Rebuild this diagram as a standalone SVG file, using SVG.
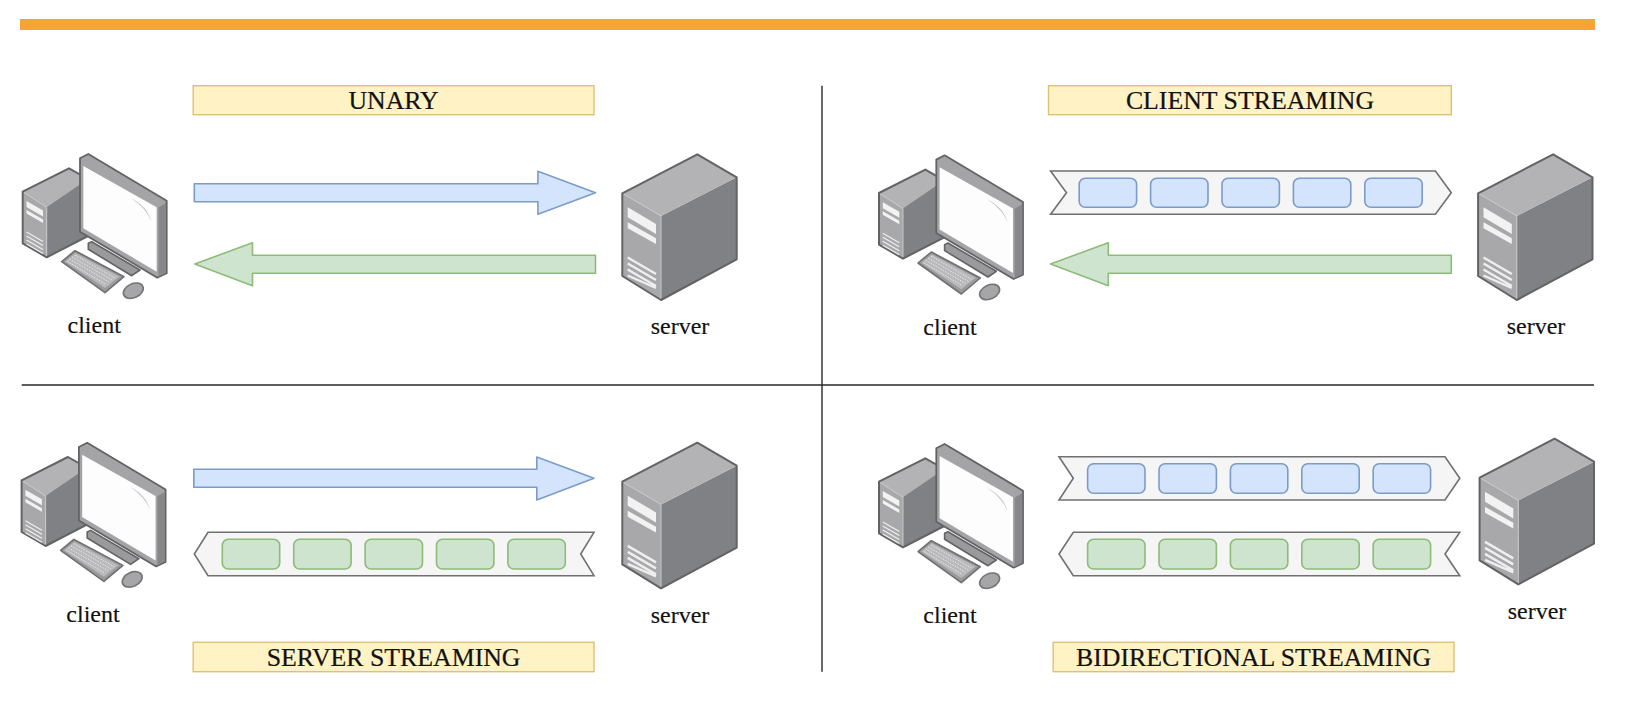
<svg xmlns="http://www.w3.org/2000/svg" width="1645" height="709" viewBox="0 0 1645 709">
<style>
.banner{fill:#fff2c4;stroke:#dcc272;stroke-width:1.4}
.ttl{font-family:"Liberation Serif","Times New Roman",serif;font-size:25.800px;fill:#111;text-anchor:middle;stroke:#111;stroke-width:.2}
.lbl{font-family:"Liberation Serif","Times New Roman",serif;font-size:24px;fill:#111;text-anchor:middle;stroke:#111;stroke-width:.15}
.bl{fill:#d4e4fc;stroke:#7b9cc9;stroke-width:1.6;stroke-linejoin:round}
.gr{fill:#cfe4cf;stroke:#8dbb78;stroke-width:1.6;stroke-linejoin:round}
.rib{fill:#f5f5f5;stroke:#707070;stroke-width:1.6}
.div{stroke:#2a2a2a;stroke-width:1.4;fill:none}
.o{stroke:#626365;stroke-width:2;stroke-linejoin:round;fill:none}
.w{fill:#f2f2f3}
.v{stroke:#eeeeef;stroke-width:2.400;fill:none}
.hl{stroke:#c8c8ca;stroke-width:1;fill:none}
</style>
<defs>
<filter id="soft" x="-5%" y="-5%" width="110%" height="110%"><feGaussianBlur stdDeviation="0.35"/></filter>
<g id="pc" filter="url(#soft)">
<path fill="#808184" d="M46.700 207.300L69 168.300L88 179V236L46.700 257.300Z"/>
<path fill="#b3b3b5" d="M22.700 191.700L69 168.300L88 179L46.700 207.300Z"/>
<path fill="#a8a8aa" d="M22.700 191.700L46.700 207.300V257.300L22.700 243.300Z"/>
<path class="hl" d="M22.700 191.700L46.700 207.300V257.300"/>
<path class="o" d="M88 179L69 168.300L22.700 191.700V243.300L46.700 257.300L88 236"/>
<path class="w" d="M26.500 201L43 210.500V216.500L26.500 207ZM26.500 210L43 219.500V223L26.500 213.500Z"/>
<path class="v" style="stroke-width:1.300" d="M26.500 232L43 241.500M26.500 236L43 245.500M26.500 240L43 249.500M26.500 244L43 253.500"/>
<path fill="#9a9a9c" stroke="#626365" stroke-width="1.600" stroke-linejoin="round" d="M88.300 243.300L91.700 241.700L140 270L131.700 275.700L88.300 249.300Z"/>
<path fill="#a4a4a6" stroke="#626365" stroke-width="1.800" stroke-linejoin="round" d="M80 158.300L88.300 154L166.700 200.700V273.300L157.300 277.700L80 231.700Z"/>
<path fill="#87878a" d="M158.500 207.500L166 203V272.500L158.500 277Z"/>
<path fill="#fdfdfe" d="M83.300 166L156.700 207.300V271.700L83.300 228.300Z"/>
<path fill="#c4c4c6" d="M131 198Q148 207 151 221Q147 209 131 198Z"/>
<path fill="#9a9a9c" stroke="#707072" stroke-width="1.600" stroke-linejoin="round" d="M61.700 261.700L75 250.700L124 276.700L105 292.700Z"/>
<path fill="#b9b9bb" d="M65 261.500L75.500 253L119.500 276.500L105 288Z"/>
<path stroke="#e6e6e7" stroke-width="1" stroke-dasharray="1.600 1.200" fill="none" d="M72 257L112 280M69.500 259L109 282M67.500 261.500L106 284.500M75 255L115 278"/>
<ellipse cx="133.300" cy="290.700" rx="10.500" ry="7" fill="#a6a6a8" stroke="#747476" stroke-width="1.600" transform="rotate(-25 133.300 290.700)"/>
</g>
<g id="srv" filter="url(#soft)">
<path fill="#808184" d="M661 216L736.700 177.300V259.300L661 300Z"/>
<path fill="#b3b3b5" d="M622.300 193.300L697.300 154.300L736.700 177.300L661 216Z"/>
<path fill="#a8a8aa" d="M622.300 193.300L661 216V300L622.300 276Z"/>
<path class="hl" d="M622.300 193.300L661 216V300"/>
<path class="o" d="M622.300 193.300L697.300 154.300L736.700 177.300V259.300L661 300L622.300 276Z"/>
<path class="w" d="M627.700 207.300L656 224V234L627.700 217.300ZM627.700 222.300L656 238.300V244L627.700 228.300Z"/>
<path class="v" d="M627.700 257.500L656 274M627.700 263.500L656 280M627.700 269.500L656 286M627.700 275.500L656 288"/>
</g>
</defs>
<rect width="1645" height="709" fill="#fff"/>
<rect id="top-bar" x="20" y="19" width="1575" height="11" fill="#f8a433"/>
<g id="connectors">
<path class="div" d="M822 85.700V671.700M21.700 385H1594"/>
<path id="q1-req" class="bl" d="M194.300 183.700H537.900V171.300L595.500 192.700L537.900 214.300V201.700H194.300Z"/>
<path id="q1-res" class="gr" d="M595.500 255.300H252.500V242.700L194.800 264L252.500 285.700V273.300H595.500Z"/>
<path id="q2-res" class="gr" d="M1451.300 255.300H1108.300V242.700L1050.600 264L1108.300 285.700V273.300H1451.300Z"/>
<path id="q3-req" class="bl" d="M193.800 469.300H536.800V457L594 478.300L536.800 500V487.300H193.800Z"/>
</g>
<g id="q2-stream">
<path class="rib" d="M1050.600 171H1435.400L1451.300 192.700L1435.400 214.300H1050.600L1066.500 192.700Z"/>
<rect class="bl" x="1079.200" y="178.300" width="57.400" height="29" rx="6"/><rect class="bl" x="1150.600" y="178.300" width="57.400" height="29" rx="6"/><rect class="bl" x="1222" y="178.300" width="57.400" height="29" rx="6"/><rect class="bl" x="1293.400" y="178.300" width="57.400" height="29" rx="6"/><rect class="bl" x="1364.800" y="178.300" width="57.400" height="29" rx="6"/>
</g>
<g id="q3-stream">
<path class="rib" d="M594 532.300H208L194.300 554L208 575.700H594L580.700 554Z"/>
<rect class="gr" x="222.300" y="539.300" width="57.400" height="29.700" rx="6"/><rect class="gr" x="293.700" y="539.300" width="57.400" height="29.700" rx="6"/><rect class="gr" x="365.100" y="539.300" width="57.400" height="29.700" rx="6"/><rect class="gr" x="436.500" y="539.300" width="57.400" height="29.700" rx="6"/><rect class="gr" x="507.900" y="539.300" width="57.400" height="29.700" rx="6"/>
</g>
<g id="q4-stream-up">
<path class="rib" d="M1059 456.700H1445L1459.800 478.300L1445 500H1059L1073.300 478.300Z"/>
<rect class="bl" x="1087.600" y="463.700" width="57.400" height="29.600" rx="6"/><rect class="bl" x="1159" y="463.700" width="57.400" height="29.600" rx="6"/><rect class="bl" x="1230.400" y="463.700" width="57.400" height="29.600" rx="6"/><rect class="bl" x="1301.800" y="463.700" width="57.400" height="29.600" rx="6"/><rect class="bl" x="1373.200" y="463.700" width="57.400" height="29.600" rx="6"/>
</g>
<g id="q4-stream-down">
<path class="rib" d="M1459.800 532.300H1073.300L1059 554L1073.300 575.700H1459.800L1445 554Z"/>
<rect class="gr" x="1087.600" y="539.300" width="57.400" height="29.700" rx="6"/><rect class="gr" x="1159" y="539.300" width="57.400" height="29.700" rx="6"/><rect class="gr" x="1230.400" y="539.300" width="57.400" height="29.700" rx="6"/><rect class="gr" x="1301.800" y="539.300" width="57.400" height="29.700" rx="6"/><rect class="gr" x="1373.200" y="539.300" width="57.400" height="29.700" rx="6"/>
</g>
<g id="banner-unary"><rect class="banner" x="193.200" y="85.700" width="400.800" height="29"/><text class="ttl" x="393.600" y="108.800">UNARY</text></g>
<g id="banner-client"><rect class="banner" x="1048.500" y="85.700" width="402.800" height="29"/><text class="ttl" x="1250" y="108.800">CLIENT STREAMING</text></g>
<g id="banner-server"><rect class="banner" x="193.200" y="642.300" width="400.800" height="29.400"/><text class="ttl" x="393.600" y="666">SERVER STREAMING</text></g>
<g id="banner-bidi"><rect class="banner" x="1053.200" y="642.300" width="400.800" height="29.400"/><text class="ttl" x="1253.600" y="666">BIDIRECTIONAL STREAMING</text></g>
<g id="client-1"><use href="#pc"/><text class="lbl" x="94.200" y="333">client</text></g>
<g id="server-1"><use href="#srv"/><text class="lbl" x="680" y="334">server</text></g>
<g id="client-2"><use href="#pc" transform="translate(856.300 1.300)"/><text class="lbl" x="950" y="334.500">client</text></g>
<g id="server-2"><use href="#srv" transform="translate(855.800 0)"/><text class="lbl" x="1536" y="334">server</text></g>
<g id="client-3"><use href="#pc" transform="translate(-1.100 288.700)"/><text class="lbl" x="93" y="622">client</text></g>
<g id="server-3"><use href="#srv" transform="translate(0 288.400)"/><text class="lbl" x="680" y="623">server</text></g>
<g id="client-4"><use href="#pc" transform="translate(856.300 290)"/><text class="lbl" x="950" y="623">client</text></g>
<g id="server-4"><use href="#srv" transform="translate(857.300 284.400)"/><text class="lbl" x="1537" y="619">server</text></g>
</svg>
